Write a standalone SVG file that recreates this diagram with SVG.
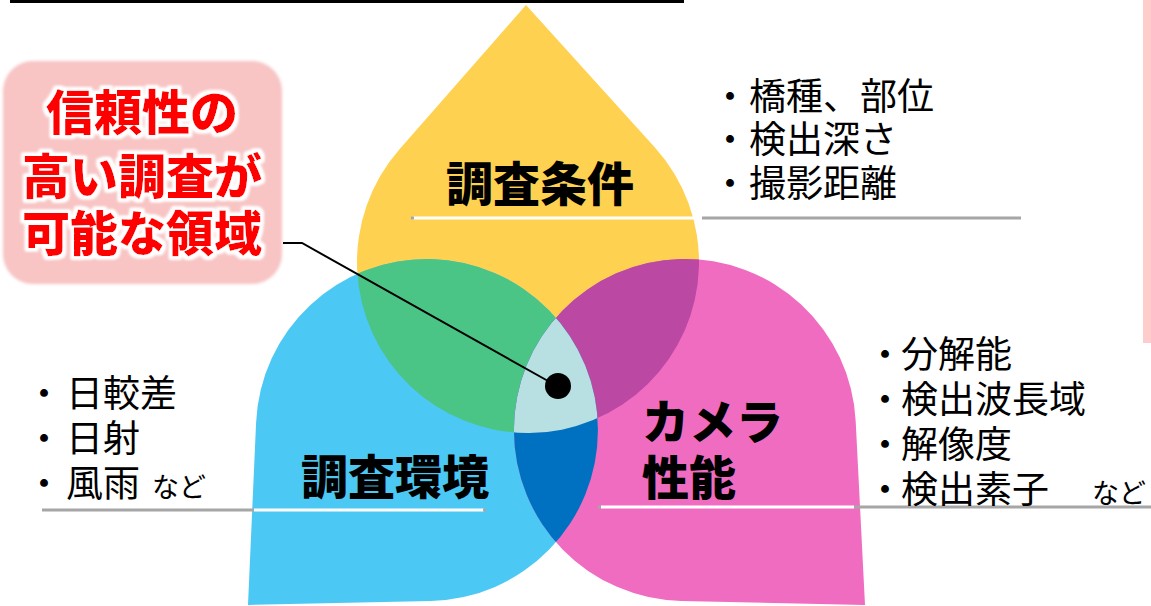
<svg xmlns="http://www.w3.org/2000/svg" xmlns:xlink="http://www.w3.org/1999/xlink" width="1151" height="606" viewBox="0 0 1151 606">
<style>
.lbl{font-family:"Noto Sans CJK JP","Noto Sans CJK SC",sans-serif;font-weight:900;font-size:47px;fill:#000}
.lst{font-family:"Noto Sans CJK JP","Noto Sans CJK SC",sans-serif;font-weight:400;font-size:37px;fill:#000}
.sm{font-size:27px}
.red{font-family:"Noto Sans CJK JP","Noto Sans CJK SC",sans-serif;font-weight:900;font-size:48px;fill:#FF0000}
.gray{stroke:#A6A6A6;stroke-width:3;fill:none}
.white{stroke:#FFFFFF;stroke-width:3;fill:none}
</style>
<defs>
<path id="Y" d="M526,5 L654.7,147.2 A171,171 0 1 1 399.5,149.2 Z"/>
<path id="B" d="M248,605 L256.1,422.4 A171,171 0 1 1 430.8,601 Z"/>
<path id="P" d="M865,605 L681.2,600.9 A171,171 0 1 1 855.7,421.4 Z"/>
<clipPath id="cY"><use xlink:href="#Y"/></clipPath>
<clipPath id="cB"><use xlink:href="#B"/></clipPath>
<filter id="glow" x="-10%" y="-30%" width="120%" height="160%">
<feMorphology in="SourceAlpha" operator="dilate" radius="3" result="d"/>
<feGaussianBlur in="d" stdDeviation="1.8" result="b"/>
<feFlood flood-color="#FFFFFF"/>
<feComposite in2="b" operator="in" result="w"/>
<feMerge><feMergeNode in="w"/><feMergeNode in="w"/><feMergeNode in="SourceGraphic"/></feMerge>
</filter>
<filter id="soft" x="-5%" y="-5%" width="110%" height="110%">
<feGaussianBlur stdDeviation="1.5"/>
</filter>
</defs>
<rect width="1151" height="606" fill="#FFFFFF"/>
<rect x="10" y="0" width="674" height="3" fill="#000000"/>
<rect x="1143" y="0" width="8" height="343" fill="#FFCCCC"/>

<g id="petal-conditions"><use xlink:href="#Y" fill="#FFD150"/></g>
<g id="petal-environment"><use xlink:href="#B" fill="#4CC8F4"/></g>
<g id="petal-camera"><use xlink:href="#P" fill="#F06CC1"/></g>

<g id="overlaps">
<use xlink:href="#B" fill="#4AC586" clip-path="url(#cY)"/>
<use xlink:href="#P" fill="#BB48A3" clip-path="url(#cY)"/>
<use xlink:href="#P" fill="#0071C1" clip-path="url(#cB)"/>
<g clip-path="url(#cY)"><use xlink:href="#P" fill="#B8DFE1" clip-path="url(#cB)"/></g>
</g>

<g id="node-conditions">
<text class="lbl" x="446" y="201">調査条件</text>
<line class="white" x1="412" y1="218" x2="694" y2="218"/>
<rect x="411" y="216.5" width="3" height="3" fill="#A6A6A6"/>
<line class="gray" x1="702" y1="218" x2="1021" y2="218"/>
<text class="lst"><tspan x="730" y="110" text-anchor="middle">・</tspan><tspan x="749" y="110">橋種、部位</tspan></text>
<text class="lst"><tspan x="730" y="153" text-anchor="middle">・</tspan><tspan x="749" y="153">検出深さ</tspan></text>
<text class="lst"><tspan x="730" y="197" text-anchor="middle">・</tspan><tspan x="749" y="197">撮影距離</tspan></text>
</g>

<g id="node-environment">
<text class="lbl" x="301" y="494">調査環境</text>
<line class="gray" x1="42" y1="510" x2="254" y2="510"/>
<line class="white" x1="254" y1="510" x2="484" y2="510"/>
<rect x="483" y="508.5" width="3" height="3" fill="#A6A6A6"/>
<text class="lst"><tspan x="44" y="407" text-anchor="middle">・</tspan><tspan x="66" y="407">日較差</tspan></text>
<text class="lst"><tspan x="44" y="452" text-anchor="middle">・</tspan><tspan x="66" y="452">日射</tspan></text>
<text class="lst"><tspan x="44" y="497" text-anchor="middle">・</tspan><tspan x="66" y="497">風雨</tspan><tspan class="sm" x="152" y="497">など</tspan></text>
</g>

<g id="node-camera">
<text class="lbl" x="642" y="439">カメラ</text>
<text class="lbl" x="642" y="495">性能</text>
<line class="white" x1="601" y1="507" x2="854" y2="507"/>
<rect x="598" y="505.5" width="3" height="3" fill="#A6A6A6"/>
<line class="gray" x1="854" y1="507" x2="1151" y2="507"/>
<text class="lst"><tspan x="885" y="368" text-anchor="middle">・</tspan><tspan x="901" y="368">分解能</tspan></text>
<text class="lst"><tspan x="885" y="413" text-anchor="middle">・</tspan><tspan x="901" y="413">検出波長域</tspan></text>
<text class="lst"><tspan x="885" y="458" text-anchor="middle">・</tspan><tspan x="901" y="458">解像度</tspan></text>
<text class="lst"><tspan x="885" y="503" text-anchor="middle">・</tspan><tspan x="901" y="503">検出素子</tspan><tspan class="sm" x="1092" y="503">など</tspan></text>
</g>

<g id="node-callout">
<rect x="3" y="61" width="279" height="223" rx="30" fill="#F8C4C4" filter="url(#soft)"/>
<text class="red" text-anchor="middle" filter="url(#glow)"><tspan x="142" y="130">信頼性の</tspan><tspan x="142" y="194">高い調査が</tspan><tspan x="142" y="251">可能な領域</tspan></text>
</g>

<g id="connectors">
<polyline points="283,243 302,243 557,386" fill="none" stroke="#000000" stroke-width="2"/>
<circle cx="558" cy="386" r="13" fill="#000000"/>
</g>
</svg>
